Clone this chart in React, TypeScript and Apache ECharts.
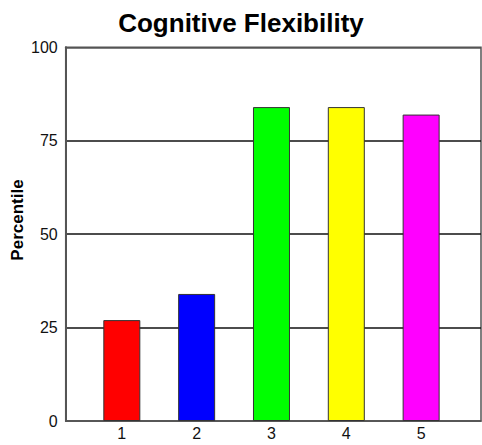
import React, { useEffect, useRef } from "react";
import * as echarts from "echarts";

const title = "Cognitive Flexibility";
const yAxisTitle = "Percentile";
const categories = ["1", "2", "3", "4", "5"];
const values = [27, 34, 84, 84, 82];
const barColors = ["#FF0000", "#0000FF", "#00FF00", "#FFFF00", "#FF00FF"];
const yTicks = [0, 25, 50, 75, 100];

export default function App() {
  const ref = useRef<HTMLDivElement>(null);
  useEffect(() => {
    if (!ref.current) return;
    const chart = echarts.init(ref.current, undefined, { renderer: "svg" });
    const positions = categories.map((_, i) => i + 1);
    chart.setOption({
      animation: false,
      backgroundColor: "#ffffff",
      title: {
        text: title,
        left: "center",
        top: 5,
        textStyle: { fontFamily: "Arial, Liberation Sans, sans-serif", fontSize: 26, fontWeight: "bold", color: "#000" },
      },
      graphic: [
        {
          type: "text",
          x: 17.5,
          y: 220,
          rotation: Math.PI / 2,
          style: {
            text: yAxisTitle,
            fontFamily: "Arial, Liberation Sans, sans-serif",
            fontSize: 17,
            fontWeight: "bold",
            fill: "#000",
            align: "center",
            verticalAlign: "middle",
          },
        },
      ],
      grid: {
        left: 65.7,
        right: 1,
        top: 47.3,
        bottom: 24,
        show: true,
        borderColor: "#555",
        borderWidth: 1.5,
        backgroundColor: "#fff",
      },
      xAxis: {
        type: "value",
        min: 0.25,
        max: 5.8,
        splitLine: { show: false },
        axisTick: { show: false },
        axisLine: { show: true, lineStyle: { color: "#555", width: 1.5 } },
        axisLabel: {
          customValues: positions,
          formatter: (v: number) => categories[Math.round(v) - 1] ?? "",
          margin: 4,
          fontFamily: "Arial, Liberation Sans, sans-serif",
          fontSize: 16,
          color: "#111",
        },
      },
      yAxis: {
        type: "value",
        min: 0,
        max: 100,
        interval: 25,
        axisTick: { show: false },
        axisLine: { show: true, lineStyle: { color: "#555", width: 2 } },
        splitLine: {
          show: true,
          lineStyle: { color: ["#555", "#111", "#111", "#111", "#555"], width: 1.5 },
        },
        axisLabel: {
          customValues: yTicks,
          margin: 8,
          fontFamily: "Arial, Liberation Sans, sans-serif",
          fontSize: 16,
          color: "#111",
        },
      },
      series: [
        {
          type: "bar",
          barWidth: 37,
          data: values.map((v, i) => ({
            value: [positions[i], v],
            itemStyle: { color: barColors[i], borderColor: "#333", borderWidth: 1 },
          })),
        },
      ],
    });
    return () => chart.dispose();
  }, []);
  return (
    <div
      ref={ref}
      style={{ position: "absolute", left: 0, top: 0, width: 482, height: 445 }}
    />
  );
}
